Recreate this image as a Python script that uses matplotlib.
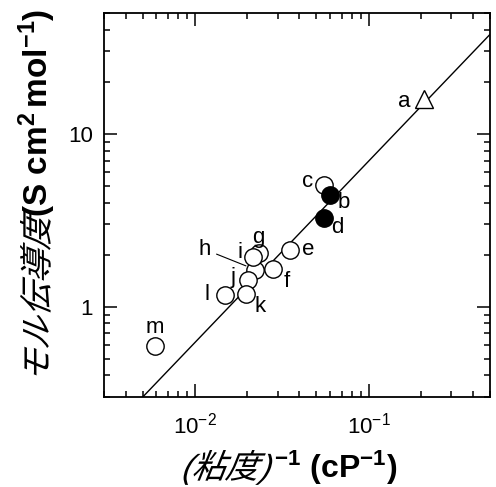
import numpy as np
import matplotlib
matplotlib.use("Agg")
import matplotlib.pyplot as plt
from matplotlib.ticker import LogLocator, FixedLocator, FuncFormatter, NullFormatter
from matplotlib.patheffects import AbstractPathEffect
from matplotlib.transforms import Affine2D

plt.rcParams["font.family"] = ["Liberation Sans", "Noto Sans CJK JP"]
plt.rcParams["mathtext.fontset"] = "custom"
plt.rcParams["mathtext.rm"] = "Liberation Sans"
plt.rcParams["mathtext.bf"] = "Liberation Sans:bold"
plt.rcParams["mathtext.it"] = "Liberation Sans:italic"

# electrolyte samples: inverse viscosity (cP^-1) vs molar conductivity
labels = ["a", "b", "c", "d", "e", "f", "g", "h", "i", "j", "k", "l", "m"]
inv_viscosity = [0.208, 0.0596, 0.0557, 0.0557, 0.0354, 0.0282, 0.0234,
                 0.0222, 0.0216, 0.0202, 0.0197, 0.0149, 0.00587]
molar_cond = [15.8, 4.42, 5.05, 3.25, 2.14, 1.66, 2.03,
              1.64, 1.93, 1.42, 1.19, 1.17, 0.593]
filled = ["b", "d"]
triangle = ["a"]

# Walden-type fit line, end points
fit_x = [0.003, 0.5]
fit_y = [0.175, 37.6]

# label offsets in pixels (dx, dy)
label_offset = {
    "a": (-20, -2), "b": (14, -7), "c": (-17, 4), "d": (13, -9),
    "e": (18, 0), "f": (14, -13), "g": (-1, 16), "h": (-50, 20),
    "i": (-13, 5), "j": (-15, 3), "k": (14, -13), "l": (-18, 0),
    "m": (0, 18),
}


class Slant(AbstractPathEffect):
    """Shear glyphs to fake an oblique face."""

    def __init__(self, deg=20):
        super().__init__()
        self._shear = Affine2D().skew_deg(deg, 0)

    def draw_path(self, renderer, gc, tpath, affine, rgbFace=None):
        renderer.draw_path(gc, tpath, self._shear + affine, rgbFace)


W, H = 496, 487
fig = plt.figure(figsize=(W / 100, H / 100), dpi=100)
ax = fig.add_axes([104 / W, (H - 397) / H, (490 - 104) / W, (397 - 13) / H])

ax.plot(fit_x, fit_y, color="black", lw=1.0, zorder=2)

for name, x, y in zip(labels, inv_viscosity, molar_cond):
    if name in triangle:
        ax.plot(x, y, marker="^", ms=13, mfc="white", mec="black", mew=1.0, zorder=3)
    elif name in filled:
        ax.plot(x, y, marker="o", ms=12.5, mfc="black", mec="black", mew=1.0, zorder=4)
    else:
        ax.plot(x, y, marker="o", ms=12.5, mfc="white", mec="black", mew=1.0, zorder=3)

for name, x, y in zip(labels, inv_viscosity, molar_cond):
    dx, dy = label_offset[name]
    kw = {}
    if name == "h":
        kw["arrowprops"] = dict(arrowstyle="-", color="black", lw=0.8,
                                shrinkA=2, shrinkB=7)
    ax.annotate(name, (x, y), xytext=(dx, dy), textcoords="offset pixels",
                ha="center", va="center", fontsize=16, **kw)

ax.set_xscale("log")
ax.set_yscale("log")
ax.set_xlim(0.003, 0.5)
ax.set_ylim(0.3, 50)

ax.xaxis.set_major_locator(FixedLocator([0.01, 0.1]))
ax.xaxis.set_minor_locator(LogLocator(base=10, subs=np.arange(2, 10)))
ax.xaxis.set_minor_formatter(NullFormatter())
ax.yaxis.set_major_locator(FixedLocator([1, 10]))
ax.yaxis.set_major_formatter(FuncFormatter(lambda v, p: f"{v:g}"))
ax.yaxis.set_minor_locator(LogLocator(base=10, subs=np.arange(2, 10)))
ax.yaxis.set_minor_formatter(NullFormatter())

ax.tick_params(which="both", direction="in", top=True, right=True,
               labelsize=16, width=1.1, colors="black")
ax.tick_params(which="major", length=9.5)
ax.tick_params(which="minor", length=4.5)
ax.tick_params(axis="x", which="major", pad=11)
ax.tick_params(axis="y", which="major", pad=8)
for sp in ax.spines.values():
    sp.set_linewidth(1.3)

jp_family = ["Liberation Sans", "Noto Sans CJK JP"]

# y label: Japanese part sheared, units in bold
fig.text(48 / W, 1 - 217 / H, "モル伝導度", rotation=90, rotation_mode="anchor",
         ha="right", va="baseline", fontsize=24, family=jp_family,
         path_effects=[Slant(22)])
fig.text(48 / W, 1 - 217 / H, r"$\mathbf{(S\ cm^{2}\,mol^{-1})}$", rotation=90,
         rotation_mode="anchor", ha="left", va="baseline", fontsize=24)

# x label
fig.text(180 / W, 1 - 478 / H, "(粘度)", ha="left", va="baseline", fontsize=24,
         family=jp_family, path_effects=[Slant(22)])
fig.text(274 / W, 1 - 478 / H, r"$\mathbf{^{-1}\ (cP^{-1})}$", ha="left",
         va="baseline", fontsize=23)

fig.savefig("out.png", dpi=100)
